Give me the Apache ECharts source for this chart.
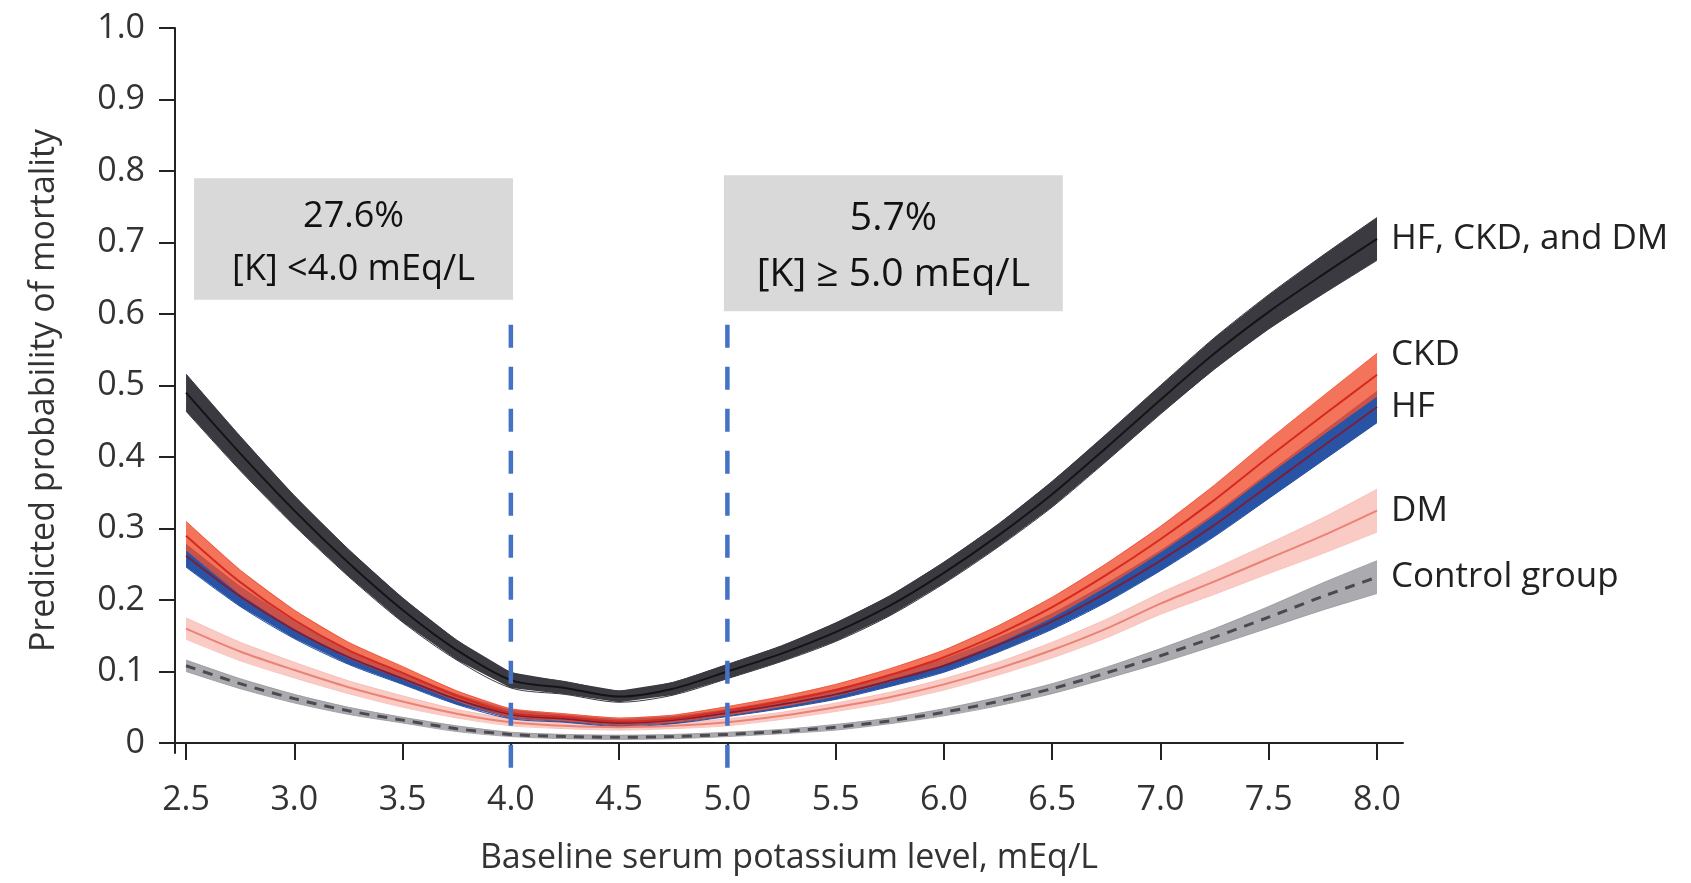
<!DOCTYPE html>
<html>
<head>
<meta charset="utf-8">
<title>Predicted probability of mortality by baseline potassium</title>
<script src="https://cdn.jsdelivr.net/npm/echarts@6/dist/echarts.min.js"></script>
<style>
    html, body { margin: 0; padding: 0; background: #fff; }
    #mortalityChart { width: 1691px; height: 883px; }
</style>
</head>
<body>
<div id="mortalityChart"></div>
<script>
// potassium levels, mEq/L
const potassium = [2.5, 2.75, 3.0, 3.25, 3.5, 3.75, 4.0, 4.25, 4.5, 4.75, 5.0, 5.25,
    5.5, 5.75, 6.0, 6.25, 6.5, 6.75, 7.0, 7.25, 7.5, 7.75, 8.0];

const xTicks = [2.5, 3.0, 3.5, 4.0, 4.5, 5.0, 5.5, 6.0, 6.5, 7.0, 7.5, 8.0];
const yTicks = [0, 0.1, 0.2, 0.3, 0.4, 0.5, 0.6, 0.7, 0.8, 0.9, 1.0];

// cut-off levels marked with the blue dashed lines
const cutoffs = [4.0, 5.0];

// predicted probability (centre line) and half width of the band
const allThree = [0.49, 0.405, 0.325, 0.252, 0.186, 0.13, 0.088, 0.077, 0.065, 0.076, 0.1, 0.125,
    0.155, 0.192, 0.238, 0.29, 0.348, 0.413, 0.48, 0.545, 0.603, 0.655, 0.705];
const allThreeSpread = [0.026, 0.024, 0.021, 0.019, 0.017, 0.014, 0.011, 0.009, 0.008, 0.009, 0.01, 0.011,
    0.013, 0.014, 0.015, 0.016, 0.018, 0.019, 0.02, 0.022, 0.024, 0.027, 0.03];

const ckd = [0.29, 0.225, 0.172, 0.13, 0.098, 0.066, 0.042, 0.036, 0.03, 0.034, 0.045, 0.058,
    0.074, 0.095, 0.12, 0.152, 0.19, 0.235, 0.285, 0.34, 0.4, 0.458, 0.515];
const ckdSpread = [0.02, 0.017, 0.014, 0.011, 0.009, 0.007, 0.006, 0.005, 0.005, 0.005, 0.006, 0.007,
    0.008, 0.009, 0.01, 0.012, 0.014, 0.016, 0.018, 0.021, 0.024, 0.027, 0.03];

const hf = [0.262, 0.205, 0.158, 0.12, 0.09, 0.061, 0.04, 0.034, 0.028, 0.032, 0.042, 0.054,
    0.068, 0.087, 0.108, 0.137, 0.17, 0.21, 0.255, 0.305, 0.36, 0.415, 0.47];
const hfSpread = [0.016, 0.014, 0.012, 0.01, 0.008, 0.007, 0.006, 0.005, 0.005, 0.005, 0.005, 0.006,
    0.007, 0.008, 0.009, 0.01, 0.011, 0.013, 0.014, 0.016, 0.018, 0.02, 0.022];

const dm = [0.16, 0.128, 0.102, 0.078, 0.058, 0.041, 0.029, 0.024, 0.022, 0.024, 0.029, 0.038,
    0.05, 0.064, 0.082, 0.104, 0.13, 0.16, 0.195, 0.226, 0.258, 0.29, 0.325];
const dmSpread = [0.015, 0.013, 0.011, 0.009, 0.008, 0.006, 0.005, 0.004, 0.004, 0.004, 0.005, 0.005,
    0.006, 0.007, 0.008, 0.009, 0.011, 0.013, 0.015, 0.018, 0.021, 0.025, 0.03];

const control = [0.108, 0.083, 0.062, 0.045, 0.032, 0.02, 0.012, 0.009, 0.008, 0.009, 0.012, 0.016,
    0.022, 0.031, 0.043, 0.058, 0.076, 0.098, 0.122, 0.148, 0.176, 0.205, 0.232];
const controlSpread = [0.008, 0.007, 0.006, 0.005, 0.004, 0.004, 0.003, 0.003, 0.003, 0.003, 0.003, 0.003,
    0.004, 0.004, 0.005, 0.006, 0.007, 0.008, 0.01, 0.012, 0.015, 0.019, 0.023];

const FONT = '"Open Sans", "Noto Sans", sans-serif';

function pairs(values) {
    return potassium.map((x, i) => [x, values[i]]);
}

// confidence band drawn as one polygon: upper edge forwards, lower edge back
function band(id, mid, spread, color) {
    const rows = potassium.map((x, i) => [x, mid[i] - spread[i], mid[i] + spread[i]]);
    return {
        type: 'custom',
        name: id + '-band',
        data: rows,
        silent: true,
        encode: {x: 0, y: [1, 2]},
        renderItem: (params, api) => {
            if (params.dataIndex !== 0) {
                return null;
            }
            const upper = rows.map(r => api.coord([r[0], r[2]]));
            const lower = rows.map(r => api.coord([r[0], r[1]])).reverse();
            return {
                type: 'group',
                children: [
                    {type: 'polyline', shape: {points: upper, smooth: 0.3}, style: {stroke: color, lineWidth: 1, fill: null}},
                    {type: 'polyline', shape: {points: lower, smooth: 0.3}, style: {stroke: color, lineWidth: 1, fill: null}},
                    {type: 'polygon', shape: {points: upper.concat(lower)}, style: {fill: color}},
                ],
            };
        },
    };
}

function centreLine(name, values, lineStyle, labelOffset) {
    return {
        type: 'line', name: name, data: pairs(values),
        smooth: 0.3, symbol: 'none', silent: true,
        lineStyle: lineStyle,
        endLabel: {
            show: true,
            formatter: name,
            distance: 14,
            offset: labelOffset || [0, 0],
            fontFamily: FONT,
            fontSize: 35,
            color: '#222',
        },
    };
}

const boxLabel = {
    show: true,
    position: 'inside',
    offset: [0, 4],
    color: '#111',
    fontFamily: FONT,
};

const option = {
    animation: false,
    backgroundColor: '#fff',
    grid: {left: 175, right: 288, top: 28, bottom: 130},
    xAxis: {
        type: 'value',
        min: 2.449,
        max: 8.12,
        name: 'Baseline serum potassium level, mEq/L',
        nameLocation: 'middle',
        nameGap: 88,
        nameTextStyle: {fontFamily: FONT, fontSize: 34, color: '#333'},
        axisLine: {lineStyle: {color: '#222', width: 2}},
        axisTick: {show: true, customValues: xTicks, length: 17, lineStyle: {color: '#222', width: 2}},
        axisLabel: {
            customValues: xTicks,
            formatter: v => v.toFixed(1),
            margin: 30,
            fontFamily: FONT,
            fontSize: 34,
            color: '#333',
        },
        splitLine: {show: false},
    },
    yAxis: {
        type: 'value',
        min: -0.014,
        max: 1.0,
        name: 'Predicted probability of mortality',
        nameLocation: 'middle',
        nameGap: 114,
        nameTextStyle: {fontFamily: FONT, fontSize: 34, color: '#333'},
        axisLine: {show: true, lineStyle: {color: '#222', width: 2}},
        axisTick: {show: true, customValues: yTicks, length: 16, lineStyle: {color: '#222', width: 2}},
        axisLabel: {
            customValues: yTicks,
            formatter: v => (v === 0 ? '0' : v.toFixed(1)),
            margin: 30,
            fontFamily: FONT,
            fontSize: 34,
            color: '#333',
        },
        splitLine: {show: false},
    },
    series: [
        band('control', control, controlSpread, 'rgba(150,150,155,0.8)'),
        centreLine('Control group', control, {color: '#4a4a50', width: 3, type: [10, 8]}),
        band('dm', dm, dmSpread, 'rgba(247,185,176,0.75)'),
        centreLine('DM', dm, {color: '#ea8376', width: 2}),
        band('hf', hf, hfSpread, 'rgba(30,75,160,0.95)'),
        centreLine('HF', hf, {color: '#7a1f3a', width: 2}),
        band('ckd', ckd, ckdSpread, 'rgba(240,80,50,0.8)'),
        centreLine('CKD', ckd, {color: '#d62a1e', width: 2}, [0, -20]),
        band('all', allThree, allThreeSpread, '#3a3a40'),
        centreLine('HF, CKD, and DM', allThree, {color: '#141416', width: 2}),
        {
            // annotation boxes
            type: 'line',
            name: 'annotations',
            data: [],
            silent: true,
            markArea: {
                silent: true,
                itemStyle: {color: '#d9d9d9', opacity: 1},
                data: [
                    [
                        {
                            coord: [2.537, 0.79],
                            label: Object.assign({}, boxLabel, {
                                formatter: '27.6%\n[K] <4.0 mEq/L',
                                fontSize: 36,
                                lineHeight: 53,
                            }),
                        },
                        {coord: [4.01, 0.62]},
                    ],
                    [
                        {
                            coord: [4.984, 0.794],
                            label: Object.assign({}, boxLabel, {
                                formatter: '5.7%\n[K] \u2265 5.0 mEq/L',
                                fontSize: 39,
                                lineHeight: 56,
                            }),
                        },
                        {coord: [6.549, 0.604]},
                    ],
                ],
            },
        },
        {
            // blue dashed cut-off lines, running a little past the x axis
            type: 'custom',
            name: 'cutoffs',
            data: cutoffs.map(k => [k]),
            silent: true,
            clip: false,
            z: 10,
            encode: {x: 0},
            renderItem: (params, api) => {
                const k = api.value(0);
                const top = api.coord([k, 0.585]);
                const bottom = api.coord([k, -0.035]);
                return {
                    type: 'line',
                    shape: {x1: top[0], y1: top[1], x2: bottom[0], y2: bottom[1]},
                    style: {stroke: '#4472c4', lineWidth: 4.5, lineDash: [23, 19]},
                };
            },
        },
    ],
};

function main() {
    const chart = echarts.init(document.getElementById('mortalityChart'));
    chart.setOption(option);
    window.addEventListener('resize', () => chart.resize());
}

main();
</script>
</body>
</html>
